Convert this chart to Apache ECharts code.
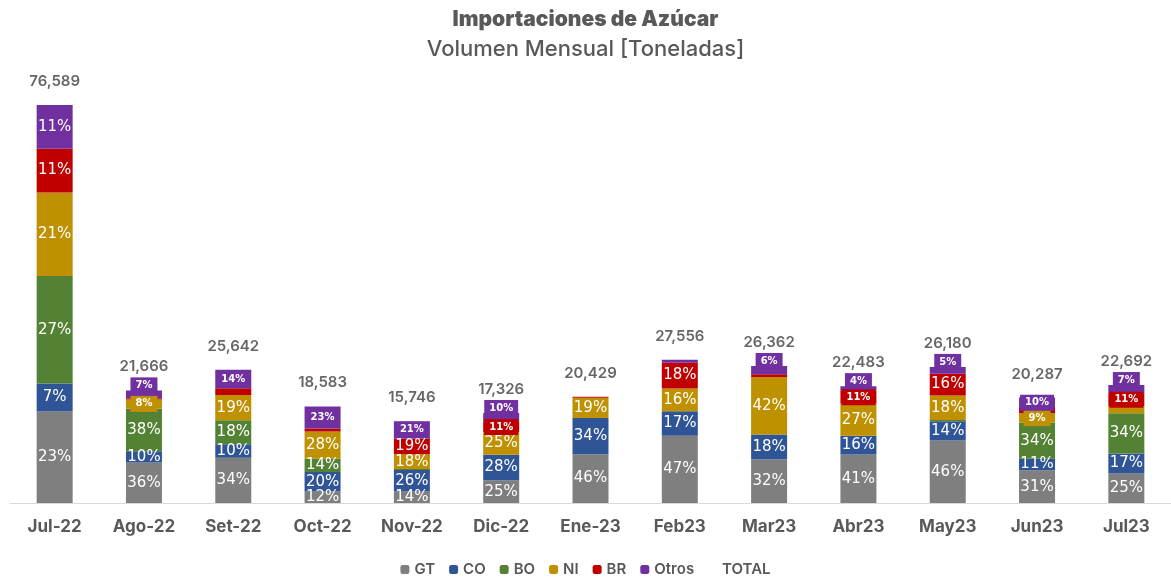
<!DOCTYPE html>
<html>
<head>
<meta charset="utf-8">
<script src="https://cdn.jsdelivr.net/npm/echarts@6/dist/echarts.min.js"></script>
<style>
  html, body { margin: 0; padding: 0; background: #fff; }
  #chart { width: 1171px; height: 578px; }
</style>
</head>
<body>
<div id="chart"></div>
<script>
// meses
const categories = ['Jul-22', 'Ago-22', 'Set-22', 'Oct-22', 'Nov-22', 'Dic-22', 'Ene-23', 'Feb23', 'Mar23', 'Abr23', 'May23', 'Jun23', 'Jul23'];
// total mensual en toneladas
const totals = [76589, 21666, 25642, 18583, 15746, 17326, 20429, 27556, 26362, 22483, 26180, 20287, 22692];
// participacion (%) por origen
const pctGT = [23, 36, 34, 12, 14, 25, 46, 47, 32, 41, 46, 31, 25];
const pctCO = [7, 10, 10, 20, 26, 28, 34, 17, 18, 16, 14, 11, 17];
const pctBO = [27, 38, 18, 14, 1, 0, 0, 0, 0, 0, 1, 34, 34];
const pctNI = [21, 8, 19, 28, 18, 25, 19, 16, 42, 27, 18, 9, 6];
const pctBR = [11, 1, 5, 3, 19, 11, 1, 18, 2, 11, 16, 5, 11];
const pctOtros = [11, 7, 14, 23, 21, 10, 0, 2, 6, 4, 5, 10, 7];

// smallPx: debajo de ese alto la etiqueta va chica con fondo
const origins = [
  { name: 'GT', pct: pctGT, color: '#7f7f7f', smallPx: 0 },
  { name: 'CO', pct: pctCO, color: '#2f5597', smallPx: 0 },
  { name: 'BO', pct: pctBO, color: '#548235', smallPx: 0 },
  { name: 'NI', pct: pctNI, color: '#bf9000', smallPx: 12 },
  { name: 'BR', pct: pctBR, color: '#c00000', smallPx: 15 },
  { name: 'Otros', pct: pctOtros, color: '#7030a0', smallPx: 26 }
];

const yMax = 83300;
const pxPerTon = 433 / yMax; // alto aproximado de la grilla

const sums = categories.map((c, i) => origins.reduce((s, o) => s + o.pct[i], 0));

const series = origins.map((o) => {
  const isOtros = o.name === 'Otros';
  return {
    name: o.name,
    type: 'bar',
    stack: 'total',
    barWidth: 36,
    itemStyle: { color: o.color },
    data: o.pct.map((p, i) => {
      const val = totals[i] * p / sums[i];
      const px = val * pxPerTon;
      const show = p >= 7 || (isOtros && p >= 4);
      let label = {
        show: show,
        position: 'inside',
        color: '#fff',
        fontFamily: 'DejaVu Sans',
        fontSize: 15,
        formatter: p + '%'
      };
      if (px < o.smallPx) {
        label.fontSize = 10;
        label.fontWeight = 'bold';
        label.backgroundColor = o.color;
        label.padding = [3, 5];
        if (isOtros && px < 10) {
          label.position = 'top';
          label.distance = -3;
        }
      }
      return { value: val, label: label };
    })
  };
});

// serie TOTAL solo para la etiqueta sobre la barra
series.push({
  name: 'TOTAL',
  type: 'scatter',
  symbolSize: 0,
  itemStyle: { color: 'rgba(0,0,0,0)' },
  data: totals,
  z: 10,
  label: {
    show: true,
    position: 'top',
    distance: 16,
    color: '#404040',
    fontFamily: 'Inter',
    fontWeight: 600,
    fontSize: 15,
    formatter: (p) => p.value.toLocaleString('en-US')
  }
});

const chart = echarts.init(document.getElementById('chart'));
chart.setOption({
  animation: false,
  title: [
    {
      text: 'Importaciones de Azúcar',
      left: 'center',
      top: 4,
      textStyle: { fontFamily: 'Inter', fontWeight: 900, fontSize: 21, color: '#595959' }
    },
    {
      text: 'Volumen Mensual [Toneladas]',
      left: 'center',
      top: 33,
      textStyle: { fontFamily: 'Inter', fontWeight: 500, fontSize: 22, color: '#595959' }
    }
  ],
  legend: {
    top: 557,
    left: 'center',
    itemWidth: 9,
    itemHeight: 9,
    itemGap: 14,
    textStyle: { fontFamily: 'Inter', fontWeight: 600, fontSize: 15, color: '#595959' },
    data: ['GT', 'CO', 'BO', 'NI', 'BR', 'Otros', { name: 'TOTAL', icon: 'none' }]
  },
  grid: { left: 10, right: -8, top: 70, bottom: 75 },
  xAxis: {
    type: 'category',
    data: categories,
    axisTick: { show: false },
    axisLine: { lineStyle: { color: '#d9d9d9', width: 1 } },
    axisLabel: {
      margin: 15,
      fontFamily: 'Inter',
      fontWeight: 'bold',
      fontSize: 17,
      color: '#595959'
    }
  },
  yAxis: {
    type: 'value',
    min: 0,
    max: yMax,
    show: false,
    splitLine: { show: false }
  },
  series: series
});
</script>
</body>
</html>
